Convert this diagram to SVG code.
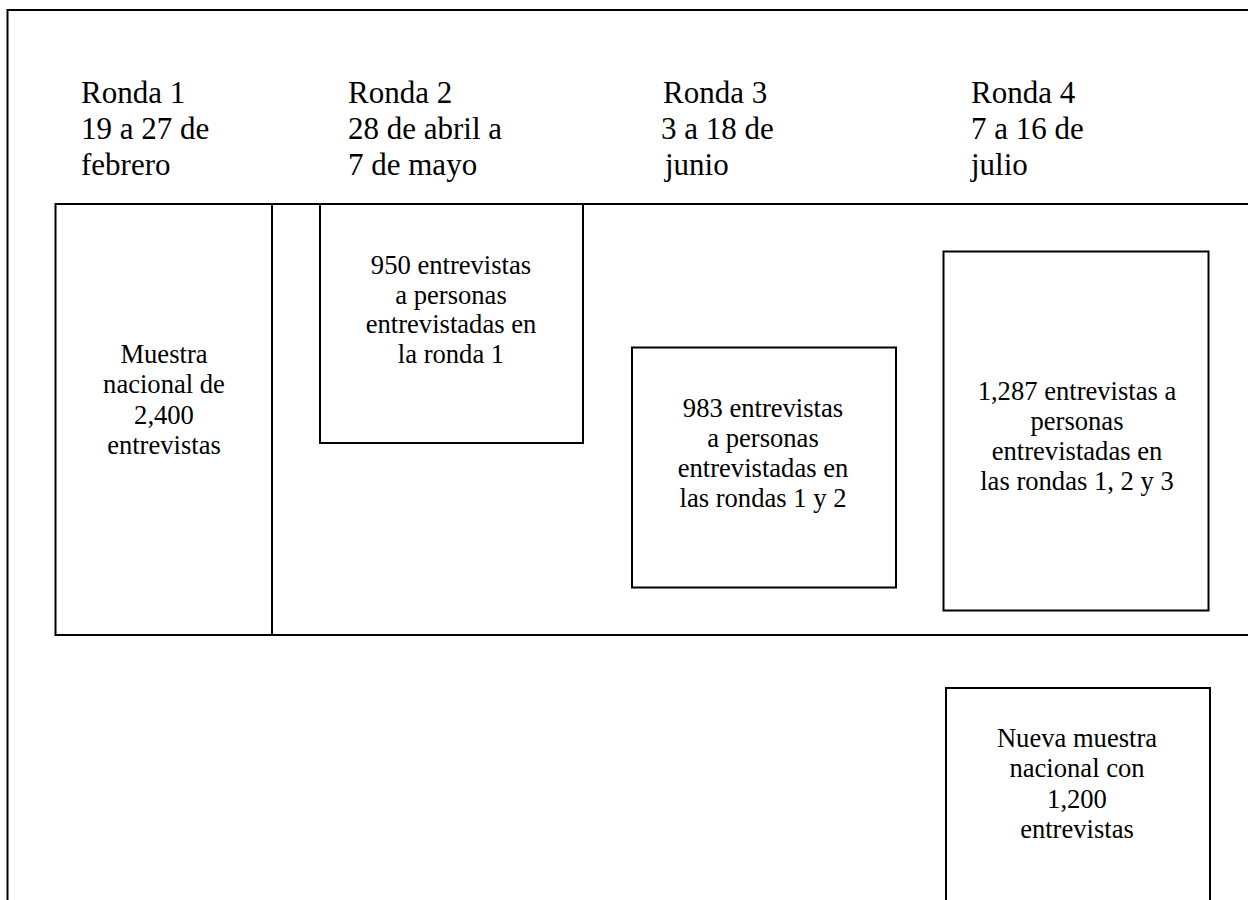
<svg xmlns="http://www.w3.org/2000/svg" width="1248" height="900" viewBox="0 0 1248 900">
<style>
  .ln { fill: none; stroke: #000; stroke-width: 2; }
  .box { fill: #fff; stroke: #000; stroke-width: 2; }
  .hd { font-family: "Liberation Serif", "Times New Roman", serif; font-size: 31px; fill: #000; }
  .tx { font-family: "Liberation Serif", "Times New Roman", serif; font-size: 26.6px; fill: #000; text-anchor: middle; }
</style>
<rect x="0" y="0" width="1248" height="900" fill="#fff"/>
<g id="frame">
  <path class="ln" d="M7.5,910 V10 H1260"/>
</g>
<g id="headers">
  <g id="ronda1">
    <text class="hd" x="81" y="103">Ronda 1</text>
    <text class="hd" x="81" y="139">19 a 27 de</text>
    <text class="hd" x="81" y="175">febrero</text>
  </g>
  <g id="ronda2">
    <text class="hd" x="348" y="103">Ronda 2</text>
    <text class="hd" x="348" y="139">28 de abril a</text>
    <text class="hd" x="348" y="175">7 de mayo</text>
  </g>
  <g id="ronda3">
    <text class="hd" x="663" y="103">Ronda 3</text>
    <text class="hd" x="661" y="139">3 a 18 de</text>
    <text class="hd" x="665" y="175">junio</text>
  </g>
  <g id="ronda4">
    <text class="hd" x="971" y="103">Ronda 4</text>
    <text class="hd" x="971" y="139">7 a 16 de</text>
    <text class="hd" x="971" y="175">julio</text>
  </g>
</g>
<g id="panel">
  <path class="ln" d="M1260,204 H55.5 V635 H1260"/>
  <line class="ln" x1="272" y1="204" x2="272" y2="635"/>
</g>
<g id="muestra-nacional">
  <text class="tx" x="164" y="363">Muestra</text>
  <text class="tx" x="164" y="393">nacional de</text>
  <text class="tx" x="164" y="424">2,400</text>
  <text class="tx" x="164" y="454">entrevistas</text>
</g>
<g id="box-950">
  <rect class="box" x="320" y="204" width="263" height="239"/>
  <text class="tx" x="451" y="274">950 entrevistas</text>
  <text class="tx" x="451" y="304">a personas</text>
  <text class="tx" x="451" y="333">entrevistadas en</text>
  <text class="tx" x="451" y="363">la ronda 1</text>
</g>
<g id="box-983">
  <rect class="box" x="632" y="347.5" width="264" height="240"/>
  <text class="tx" x="763" y="417">983 entrevistas</text>
  <text class="tx" x="763" y="447">a personas</text>
  <text class="tx" x="763" y="477">entrevistadas en</text>
  <text class="tx" x="763" y="507">las rondas 1 y 2</text>
</g>
<g id="box-1287">
  <rect class="box" x="943.5" y="251.5" width="265" height="359"/>
  <text class="tx" x="1077" y="400">1,287 entrevistas a</text>
  <text class="tx" x="1077" y="430">personas</text>
  <text class="tx" x="1077" y="460">entrevistadas en</text>
  <text class="tx" x="1077" y="490">las rondas 1, 2 y 3</text>
</g>
<g id="box-nueva">
  <rect class="box" x="946" y="688" width="264" height="240"/>
  <text class="tx" x="1077" y="747">Nueva muestra</text>
  <text class="tx" x="1077" y="777">nacional con</text>
  <text class="tx" x="1077" y="808">1,200</text>
  <text class="tx" x="1077" y="838">entrevistas</text>
</g>
<g id="connectors"></g>
</svg>
